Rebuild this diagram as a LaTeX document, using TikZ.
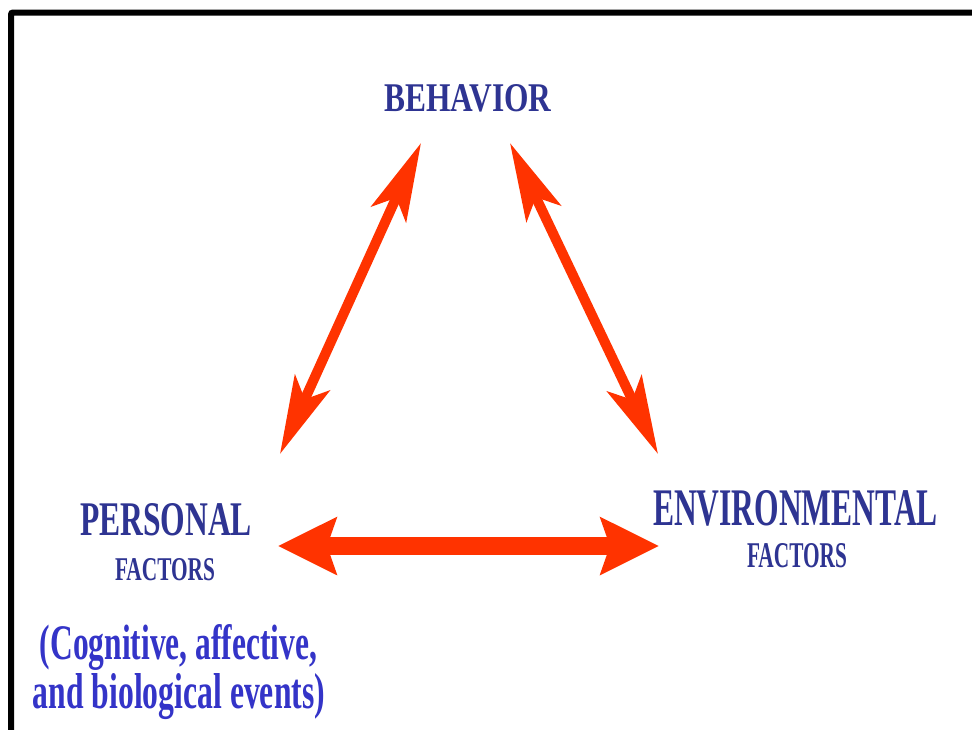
\documentclass[tikz,border=0pt]{standalone}
\usepackage{fontspec}
\setmainfont{Liberation Serif}
\usepackage{graphicx}
\usetikzlibrary{arrows.meta}
\definecolor{headblue}{RGB}{46,52,146}
\definecolor{textblue}{RGB}{52,52,200}
\definecolor{arrred}{RGB}{255,51,0}
\tikzset{
  lbl/.style={inner sep=0pt, outer sep=0pt, anchor=base, text=headblue, font=\bfseries},
  lblb/.style={lbl, text=textblue},
  thinarrow/.style={draw=arrred, line width=10pt,
    {Stealth[length=78pt, width=38pt, inset=18pt]}-{Stealth[length=78pt, width=38pt, inset=18pt]}},
  thickarrow/.style={draw=arrred, line width=18pt,
    {Stealth[length=58pt, width=56pt, inset=9pt]}-{Stealth[length=58pt, width=56pt, inset=9pt]}},
  frame/.style={draw=black, line width=6pt, rounded corners=2pt}
}
\begin{document}
\begin{tikzpicture}[x=1pt, y=-1pt]
\useasboundingbox (0,0) rectangle (972,729);
\fill[white] (0,0) rectangle (972,729);
\draw[frame] (11,12.5) rectangle (1000,760);

% labels
\node[lbl] (beh) at (468,111) {\resizebox{167pt}{27pt}{BEHAVIOR}};
\node[lbl] (pers) at (166,535) {\resizebox{172pt}{32pt}{PERSONAL}};
\node[lbl] (pfac) at (165,580) {\resizebox{100pt}{22pt}{FACTORS}};
\node[lblb] (cog) at (178.5,659) {\resizebox{277pt}{35pt}{(Cognitive, affective,}};
\node[lblb] (bio) at (179,708) {\resizebox{292pt}{35pt}{and biological events)}};
\node[lbl] (env) at (795.5,525) {\resizebox{285pt}{35pt}{ENVIRONMENTAL}};
\node[lbl] (efac) at (797,567) {\resizebox{100pt}{24pt}{FACTORS}};

% arrow end points
\coordinate (bl) at (421,143);
\coordinate (br) at (510,143);
\coordinate (pt) at (280,454);
\coordinate (et) at (658,454);
\coordinate (ph) at (278,546);
\coordinate (eh) at (659,546);

\draw[thinarrow] (pt) -- (bl);
\draw[thinarrow] (br) -- (et);
\draw[thickarrow] (ph) -- (eh);
\end{tikzpicture}
\end{document}
